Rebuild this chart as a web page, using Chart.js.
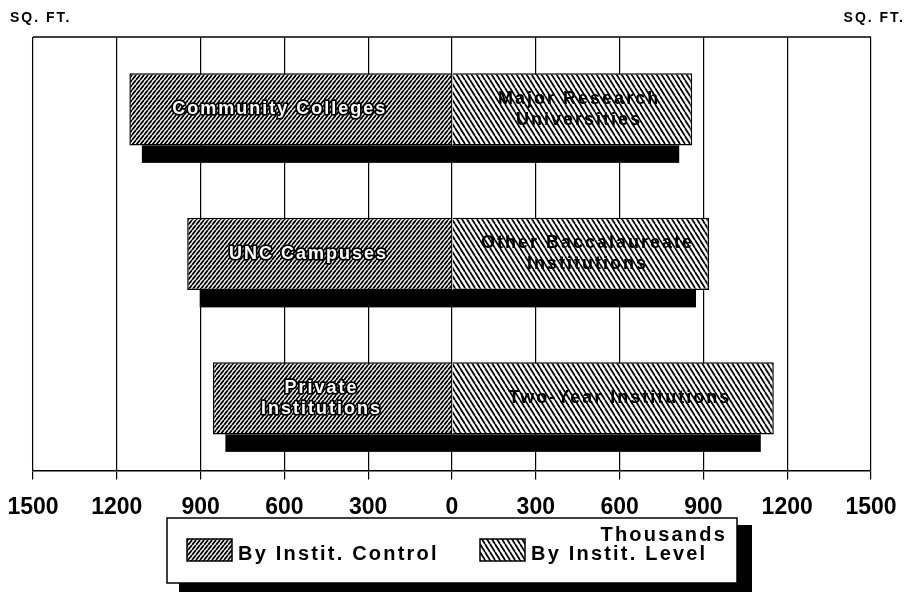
<!DOCTYPE html>
<html>
<head>
<meta charset="utf-8">
<script src="https://cdn.jsdelivr.net/npm/chart.js@4.4.1/dist/chart.umd.min.js"></script>
<style>
  html, body { margin: 0; padding: 0; background: #fff; }
  #wrap { width: 910px; height: 592px; }
</style>
</head>
<body>
<div id="wrap"><canvas id="chart" width="910" height="592"></canvas></div>
<script>
// thousands of sq. ft. per pair of institution groups
const categories = ['Pair 1', 'Pair 2', 'Pair 3'];
const controlLabels = [['Community Colleges'], ['UNC Campuses'], ['Private', 'Institutions']];
const levelLabels = [['Major Research', 'Universities'], ['Other Baccalaureate', 'Institutions'], ['Two-Year Institutions']];
const controlValues = [1155, 948, 856];   // drawn to the left of zero
const levelValues = [860, 920, 1152];
const tickValues = [-1500, -1200, -900, -600, -300, 0, 300, 600, 900, 1200, 1500];
const seriesNames = ['By Instit. Control', 'By Instit. Level'];
const unitLabel = 'SQ. FT.';
const scaleNote = 'Thousands';

const FONT = '"Liberation Sans", Arial, sans-serif';

// diagonal hatch tile, white background with black lines
function hatch(w, h, lw, rising) {
  const c = document.createElement('canvas');
  c.width = w; c.height = h;
  const g = c.getContext('2d');
  g.fillStyle = '#fff';
  g.fillRect(0, 0, w, h);
  g.strokeStyle = '#000';
  g.lineWidth = lw;
  g.beginPath();
  for (let k = -1; k <= 1; k++) {
    if (rising) { g.moveTo(k * w, h); g.lineTo(k * w + w, 0); }
    else { g.moveTo(k * w, 0); g.lineTo(k * w + w, h); }
  }
  g.stroke();
  return g.createPattern(c, 'repeat');
}

const controlFill = hatch(4, 5, 1.8, true);
const levelFill = hatch(5, 8, 1.8, false);

const decor = {
  id: 'decor',
  beforeDatasetsDraw(chart) {
    const ctx = chart.ctx;
    const left = chart.getDatasetMeta(0).data;
    const right = chart.getDatasetMeta(1).data;
    ctx.save();
    ctx.fillStyle = '#000';
    left.forEach((el, i) => {
      const a = el.getProps(['x', 'y', 'height'], true);
      const b = right[i].getProps(['x'], true);
      const bottom = a.y + a.height / 2;
      ctx.fillRect(a.x + 12.5, bottom, (b.x - 13) - (a.x + 12.5), 17.5);
    });
    ctx.restore();
  },
  afterDatasetsDraw(chart) {
    const ctx = chart.ctx;
    const zero = chart.scales.x.getPixelForValue(0);
    const left = chart.getDatasetMeta(0).data;
    const right = chart.getDatasetMeta(1).data;
    ctx.save();
    ctx.font = 'bold 18px ' + FONT;
    ctx.letterSpacing = '2px';
    ctx.textAlign = 'center';
    ctx.textBaseline = 'middle';
    ctx.lineJoin = 'round';
    left.forEach((el, i) => {
      const a = el.getProps(['x', 'y'], true);
      const b = right[i].getProps(['x'], true);
      const lines = controlLabels[i];
      const cx = (a.x + zero) / 2 - 11;
      lines.forEach((t, j) => {
        const y = a.y + (j - (lines.length - 1) / 2) * 21;
        ctx.lineWidth = 3.5;
        ctx.strokeStyle = '#000';
        ctx.strokeText(t, cx, y);
        ctx.fillStyle = '#fff';
        ctx.fillText(t, cx, y);
      });
      const rl = levelLabels[i];
      const rx = (b.x + zero) / 2 + 7;
      rl.forEach((t, j) => {
        const y = a.y + (j - (rl.length - 1) / 2) * 21;
        ctx.fillStyle = '#000';
        ctx.fillText(t, rx, y);
      });
    });
    ctx.restore();
  },
  afterDraw(chart) {
    const ctx = chart.ctx;
    const ca = chart.chartArea;
    ctx.save();
    // top border of the plot frame
    ctx.strokeStyle = '#000';
    ctx.lineWidth = 1.5;
    ctx.beginPath();
    ctx.moveTo(ca.left, ca.top);
    ctx.lineTo(ca.right, ca.top);
    ctx.stroke();

    // unit labels
    ctx.fillStyle = '#000';
    ctx.font = 'bold 14px ' + FONT;
    ctx.letterSpacing = '2px';
    ctx.textBaseline = 'alphabetic';
    ctx.textAlign = 'left';
    ctx.fillText(unitLabel, 10, 22);
    ctx.textAlign = 'right';
    ctx.fillText(unitLabel, 905, 22);

    // legend box with drop shadow
    const bx = 167, by = 518, bw = 570, bh = 65;
    ctx.fillStyle = '#000';
    ctx.fillRect(bx + 12, by + 7, bw + 3, bh + 10);
    ctx.fillStyle = '#fff';
    ctx.fillRect(bx, by, bw, bh);
    ctx.strokeStyle = '#000';
    ctx.lineWidth = 1.5;
    ctx.strokeRect(bx, by, bw, bh);

    ctx.font = 'bold 20px ' + FONT;
    ctx.letterSpacing = '2.2px';
    ctx.fillStyle = '#000';
    ctx.textAlign = 'right';
    ctx.fillText(scaleNote, 727, 541);

    const swatchX = [187, 480];
    chart.data.datasets.forEach((ds, i) => {
      ctx.fillStyle = ds.backgroundColor;
      ctx.fillRect(swatchX[i], 539, 45, 22);
      ctx.lineWidth = 1.5;
      ctx.strokeRect(swatchX[i], 539, 45, 22);
      ctx.fillStyle = '#000';
      ctx.textAlign = 'left';
      ctx.fillText(ds.label, swatchX[i] + 51, 560);
    });
    ctx.restore();
  }
};

new Chart(document.getElementById('chart'), {
  type: 'bar',
  data: {
    labels: categories,
    datasets: [
      {
        label: seriesNames[0],
        data: controlValues.map(v => -v),
        backgroundColor: controlFill,
        borderColor: '#000',
        borderWidth: 1.5,
        borderSkipped: 'start',
        barPercentage: 0.5,
        categoryPercentage: 1.0
      },
      {
        label: seriesNames[1],
        data: levelValues,
        backgroundColor: levelFill,
        borderColor: '#000',
        borderWidth: 1.5,
        borderSkipped: 'start',
        barPercentage: 0.5,
        categoryPercentage: 1.0
      }
    ]
  },
  options: {
    indexAxis: 'y',
    responsive: false,
    animation: false,
    layout: { padding: { left: 33, right: 39, top: 37, bottom: 0 } },
    plugins: {
      legend: { display: false },
      tooltip: { enabled: false }
    },
    scales: {
      x: {
        type: 'linear',
        min: -1500,
        max: 1500,
        stacked: true,
        afterBuildTicks: s => { s.ticks = tickValues.map(v => ({ value: v })); },
        afterFit: s => { s.height = 121.5; s.paddingLeft = 0; s.paddingRight = 0; },
        grid: { color: '#000', lineWidth: 1.2, drawTicks: true, tickLength: 9, tickColor: '#000' },
        border: { display: true, color: '#000', width: 1.5 },
        ticks: {
          color: '#000',
          font: { family: FONT, size: 23, weight: 'bold' },
          padding: 14,
          maxRotation: 0,
          autoSkip: false,
          callback: v => Math.abs(v)
        }
      },
      y: {
        stacked: true,
        display: false
      }
    }
  },
  plugins: [decor]
});
</script>
</body>
</html>
